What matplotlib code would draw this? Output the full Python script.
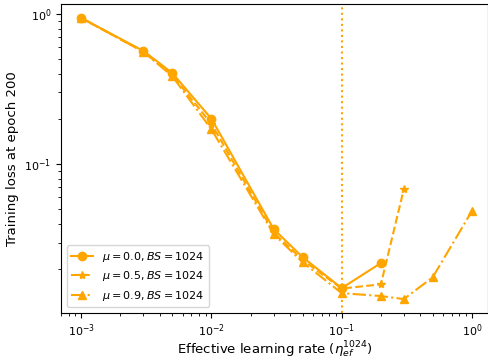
import numpy as np
import matplotlib
matplotlib.use('Agg')
import matplotlib.pyplot as plt

# 数据
lr_m0 = [0.001, 0.003, 0.005, 0.01, 0.03, 0.05, 0.1, 0.2]
loss_m0 = [0.94, 0.567, 0.404, 0.2, 0.0369, 0.024, 0.0149, 0.0219]

lr_m5 = [0.001, 0.003, 0.005, 0.01, 0.03, 0.05, 0.1, 0.2, 0.3]
loss_m5 = [0.94, 0.56, 0.39, 0.185, 0.035, 0.023, 0.0148, 0.0158, 0.068]

lr_m9 = [0.001, 0.003, 0.005, 0.01, 0.03, 0.05, 0.1, 0.2, 0.3, 0.5, 1.0]
loss_m9 = [0.94, 0.56, 0.385, 0.17, 0.0342, 0.0222, 0.0138, 0.0132, 0.0126, 0.0176, 0.0486]

best_lr = 0.1

fig = plt.figure(figsize=(4.89, 3.6), dpi=100)
ax = fig.add_axes([0.125, 0.131, 0.873, 0.858])
ax.plot(lr_m0, loss_m0, 'o-', color='orange', label=r'$\mu = 0.0, BS = 1024$')
ax.plot(lr_m5, loss_m5, '*--', color='orange', label=r'$\mu = 0.5, BS = 1024$')
ax.plot(lr_m9, loss_m9, '^-.', color='orange', label=r'$\mu = 0.9, BS = 1024$')
ax.axvline(best_lr, color='orange', linestyle=':')
ax.set_xscale('log')
ax.set_yscale('log')
ax.set_xlim(0.0007, 1.33)
ax.set_ylim(0.0102, 1.166)
ax.tick_params(labelsize=8)
ax.set_xlabel(r'Effective learning rate ($\eta_{ef}^{1024}$)', fontsize=9.5, labelpad=0)
ax.set_ylabel('Training loss at epoch 200', fontsize=9.5)
ax.legend(loc='lower left', fontsize=8)
fig.savefig('out.png')
